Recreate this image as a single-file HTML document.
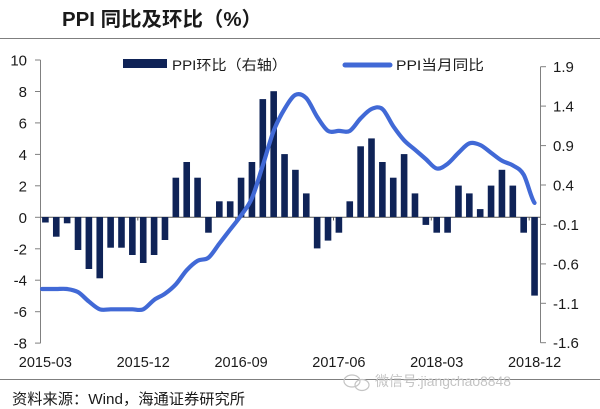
<!DOCTYPE html>
<html>
<head>
<meta charset="utf-8">
<style>
html,body{margin:0;padding:0;background:#fff;}
svg{display:block;}
text{font-family:"Liberation Sans","Noto Sans CJK SC",sans-serif;fill:#1a1a1a;}
</style>
</head>
<body>
<svg width="600" height="409" viewBox="0 0 600 409" xmlns="http://www.w3.org/2000/svg">
<text x="62" y="26" font-size="20" font-weight="bold" textLength="200" lengthAdjust="spacingAndGlyphs">PPI 同比及环比（%）</text>
<line x1="0" y1="38.5" x2="600" y2="38.5" stroke="#7f7f7f" stroke-width="1"/>
<rect x="123" y="59" width="44" height="9" fill="#0f2357"/>
<text x="172" y="70" font-size="14" textLength="115" lengthAdjust="spacingAndGlyphs">PPI环比（右轴）</text>
<line x1="345" y1="65" x2="390" y2="65" stroke="#4169d6" stroke-width="5" stroke-linecap="round"/>
<text x="396" y="70" font-size="14" textLength="88" lengthAdjust="spacingAndGlyphs">PPI当月同比</text>
<g stroke="#808080" stroke-width="1">
<line x1="40.5" y1="60" x2="40.5" y2="343.3"/>
<line x1="35" y1="60" x2="40.5" y2="60"/>
<line x1="35" y1="91.5" x2="40.5" y2="91.5"/>
<line x1="35" y1="122.9" x2="40.5" y2="122.9"/>
<line x1="35" y1="154.4" x2="40.5" y2="154.4"/>
<line x1="35" y1="185.8" x2="40.5" y2="185.8"/>
<line x1="35" y1="217.3" x2="40.5" y2="217.3"/>
<line x1="35" y1="248.8" x2="40.5" y2="248.8"/>
<line x1="35" y1="280.2" x2="40.5" y2="280.2"/>
<line x1="35" y1="311.7" x2="40.5" y2="311.7"/>
<line x1="35" y1="343.1" x2="40.5" y2="343.1"/>
<line x1="540.5" y1="66.7" x2="540.5" y2="342.7"/>
<line x1="540.5" y1="66.7" x2="546" y2="66.7"/>
<line x1="540.5" y1="106.1" x2="546" y2="106.1"/>
<line x1="540.5" y1="145.6" x2="546" y2="145.6"/>
<line x1="540.5" y1="185" x2="546" y2="185"/>
<line x1="540.5" y1="224.4" x2="546" y2="224.4"/>
<line x1="540.5" y1="263.9" x2="546" y2="263.9"/>
<line x1="540.5" y1="303.3" x2="546" y2="303.3"/>
<line x1="540.5" y1="342.7" x2="546" y2="342.7"/>
</g>
<g font-size="15" text-anchor="end">
<text x="27" y="65.5">10</text>
<text x="27" y="97">8</text>
<text x="27" y="128.4">6</text>
<text x="27" y="159.9">4</text>
<text x="27" y="191.3">2</text>
<text x="27" y="222.8">0</text>
<text x="27" y="254.3">-2</text>
<text x="27" y="285.7">-4</text>
<text x="27" y="317.2">-6</text>
<text x="27" y="348.6">-8</text>
</g>
<g font-size="15">
<text x="553" y="72.2">1.9</text>
<text x="553" y="111.6">1.4</text>
<text x="553" y="151.1">0.9</text>
<text x="553" y="190.5">0.4</text>
<text x="553" y="229.9">-0.1</text>
<text x="553" y="269.4">-0.6</text>
<text x="553" y="308.8">-1.1</text>
<text x="553" y="348.2">-1.6</text>
</g>
<line x1="40.5" y1="217.3" x2="540.5" y2="217.3" stroke="#555" stroke-width="1"/>
<g stroke="#555" stroke-width="1">
<line x1="137.8" y1="217.3" x2="137.8" y2="220.5"/>
<line x1="235.7" y1="217.3" x2="235.7" y2="220.5"/>
<line x1="333.5" y1="217.3" x2="333.5" y2="220.5"/>
<line x1="431.3" y1="217.3" x2="431.3" y2="220.5"/>
<line x1="529.2" y1="217.3" x2="529.2" y2="220.5"/>
</g>
<g fill="#0f2357">
<rect x="42.1" y="217" width="6.6" height="5.5"/>
<rect x="52.97" y="217" width="6.6" height="19.7"/>
<rect x="63.84" y="217" width="6.6" height="6.3"/>
<rect x="74.71" y="217" width="6.6" height="33"/>
<rect x="85.58" y="217" width="6.6" height="52"/>
<rect x="96.45" y="217" width="6.6" height="61.3"/>
<rect x="107.32" y="217" width="6.6" height="30.7"/>
<rect x="118.19" y="217" width="6.6" height="30.7"/>
<rect x="129.06" y="217" width="6.6" height="38"/>
<rect x="139.93" y="217" width="6.6" height="46"/>
<rect x="150.8" y="217" width="6.6" height="38"/>
<rect x="161.67" y="217" width="6.6" height="23"/>
<rect x="172.54" y="177.7" width="6.6" height="39.3"/>
<rect x="183.41" y="162" width="6.6" height="55"/>
<rect x="194.28" y="177.7" width="6.6" height="39.3"/>
<rect x="205.15" y="217" width="6.6" height="15.7"/>
<rect x="216.02" y="201.3" width="6.6" height="15.7"/>
<rect x="226.89" y="201.3" width="6.6" height="15.7"/>
<rect x="237.76" y="177.7" width="6.6" height="39.3"/>
<rect x="248.63" y="162" width="6.6" height="55"/>
<rect x="259.5" y="99.1" width="6.6" height="117.9"/>
<rect x="270.37" y="91.2" width="6.6" height="125.8"/>
<rect x="281.24" y="154.1" width="6.6" height="62.9"/>
<rect x="292.11" y="169.8" width="6.6" height="47.2"/>
<rect x="302.98" y="193.4" width="6.6" height="23.6"/>
<rect x="313.85" y="217" width="6.6" height="31.4"/>
<rect x="324.72" y="217" width="6.6" height="23.6"/>
<rect x="335.59" y="217" width="6.6" height="15.7"/>
<rect x="346.46" y="201.3" width="6.6" height="15.7"/>
<rect x="357.33" y="146.3" width="6.6" height="70.7"/>
<rect x="368.2" y="138.4" width="6.6" height="78.6"/>
<rect x="379.07" y="162" width="6.6" height="55"/>
<rect x="389.94" y="177.7" width="6.6" height="39.3"/>
<rect x="400.81" y="154.1" width="6.6" height="62.9"/>
<rect x="411.68" y="193.4" width="6.6" height="23.6"/>
<rect x="422.55" y="217" width="6.6" height="7.9"/>
<rect x="433.42" y="217" width="6.6" height="15.7"/>
<rect x="444.29" y="217" width="6.6" height="15.7"/>
<rect x="455.16" y="185.6" width="6.6" height="31.4"/>
<rect x="466.03" y="193.4" width="6.6" height="23.6"/>
<rect x="476.9" y="209.1" width="6.6" height="7.9"/>
<rect x="487.77" y="185.6" width="6.6" height="31.4"/>
<rect x="498.64" y="169.8" width="6.6" height="47.2"/>
<rect x="509.51" y="185.6" width="6.6" height="31.4"/>
<rect x="520.38" y="217" width="6.6" height="15.7"/>
<rect x="531.25" y="217" width="6.6" height="78.6"/>
</g>
<path fill="none" stroke="#4169d6" stroke-width="4.2" stroke-linecap="round" stroke-linejoin="round" d="M42,289 C49.02,289 52.65,289 56.27,289 S63.52,288.48 67.14,289 S74.39,290.02 78.01,292.1 S85.26,298.63 88.88,301.5 S96.13,308 99.75,309.3 S107,309.3 110.62,309.3 S117.87,309.3 121.49,309.3 S128.74,309.3 132.36,309.3 S139.61,310.87 143.23,309.3 S150.48,302.5 154.1,299.9 S161.35,296.3 164.97,293.7 S172.22,288.22 175.84,284.3 S183.09,274.12 186.71,270.2 S193.96,262.88 197.58,260.8 S204.83,260.57 208.45,257.7 S215.7,248.3 219.32,243.6 S226.57,234.2 230.19,229.5 S237.44,220.62 241.06,215.4 S248.31,206.53 251.93,198.2 S259.18,176.62 262.8,165.4 S270.05,140.3 273.67,130.9 S280.92,115 284.54,109 S291.79,96.72 295.41,94.9 S302.66,94.45 306.28,98.1 S313.53,111.33 317.15,116.8 S324.4,128.55 328.02,130.9 S335.27,130.9 338.89,130.9 S346.14,132.98 349.76,130.9 S357.01,122.05 360.63,118.4 S367.88,110.57 371.5,109 S378.75,106.13 382.37,109 S389.62,120.98 393.24,126.2 S400.49,136.38 404.11,140.3 S411.36,146.57 414.98,149.7 S422.23,155.97 425.85,159.1 S433.1,167.72 436.72,168.5 S443.97,166.42 447.59,163.8 S454.84,156.2 458.46,152.8 S465.71,144.7 469.33,143.4 S476.58,143.43 480.2,145 S487.45,150.18 491.07,152.8 S498.32,158.6 501.94,160.7 S509.19,163.07 512.81,165.4 S520.06,168.45 523.68,174.7 S530.93,198.2 534.55,202.9"/>
<g font-size="14.5" text-anchor="middle">
<text x="45.4" y="367">2015-03</text>
<text x="143.2" y="367">2015-12</text>
<text x="241.1" y="367">2016-09</text>
<text x="338.9" y="367">2017-06</text>
<text x="436.7" y="367">2018-03</text>
<text x="534.6" y="367">2018-12</text>
</g>
<line x1="0" y1="379.5" x2="600" y2="379.5" stroke="#7f7f7f" stroke-width="1"/>
<text x="12" y="404" font-size="15" textLength="233" lengthAdjust="spacingAndGlyphs">资料来源：Wind，海通证券研究所</text>
<g fill="none" stroke="#c4c4c4" stroke-width="1.2">
<ellipse cx="352" cy="381" rx="8" ry="6"/>
<ellipse cx="362" cy="385" rx="7" ry="5.5"/>
</g>
<text x="375" y="386" font-size="14" textLength="136" lengthAdjust="spacingAndGlyphs" style="fill:#c4c4c4">微信号:jiangchao8848</text>
</svg>
</body>
</html>
